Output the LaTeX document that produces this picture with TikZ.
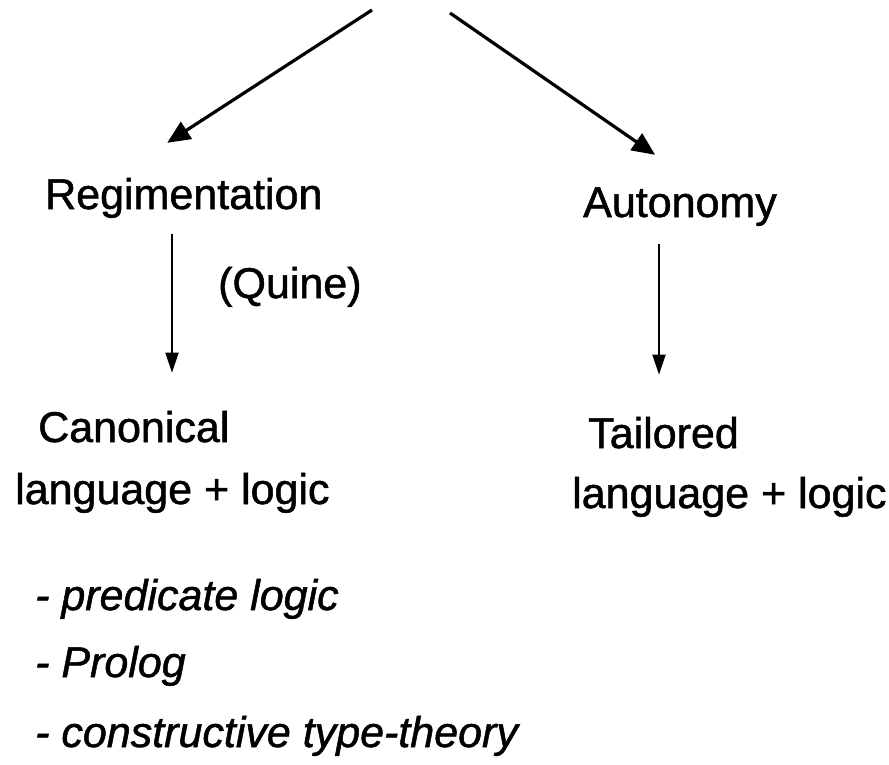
\documentclass[tikz,border=0pt]{standalone}
\usepackage{fontspec}
\setmainfont{Liberation Sans}[FakeBold=1.2]
\usetikzlibrary{positioning}
\usetikzlibrary{arrows.meta}
\tikzset{
    word/.style = {inner sep=0pt, anchor=base west, font=\fontsize{43}{50}\selectfont},
    itemw/.style = {word, font=\fontsize{43}{50}\selectfont\itshape},
    edgetop/.style = {-{Triangle[length=23pt,width=20pt]}, line width=3.2pt},
    edgedown/.style = {-{Triangle[length=20pt,width=13pt]}, line width=2pt}
}
\begin{document}
\begin{tikzpicture}[x=1pt,y=-1pt]
\useasboundingbox (0,0) rectangle (889,765);
%
\node[word] at (45,209) (regim) {Regimentation};
\node[word] at (583,217) (auto) {Autonomy};
\node[word] at (218,298) (quine) {(Quine)};
\node[word] at (38,442) (canon) {Canonical};
\node[word] at (15,504) (langl) {language + logic};
\node[word] at (588,448) (tail) {Tailored};
\node[word] at (572,508) (langr) {language + logic};
\node[itemw] at (35,610) (it1) {- predicate logic};
\node[itemw] at (35,677) (it2) {- Prolog};
\node[itemw] at (35,747) (it3) {- constructive type-theory};
\coordinate (srcl) at (372,10);
\coordinate (srcr) at (450,13);
%
\draw[edgetop, shorten >=64pt] (srcl) -- ([xshift=68.5pt]regim.north west);
\draw[edgetop, shorten >=57pt] (srcr) -- ([xshift=119pt]auto.north west);
\draw[edgedown, shorten <=16pt, shorten >=38pt] ([xshift=127pt]regim.south west) -- ([xshift=127pt]regim.south west |- canon.north);
\draw[edgedown, shorten <=18pt, shorten >=42pt] ([xshift=76pt]auto.south west) -- ([xshift=76pt]auto.south west |- tail.north);
\end{tikzpicture}
\end{document}
